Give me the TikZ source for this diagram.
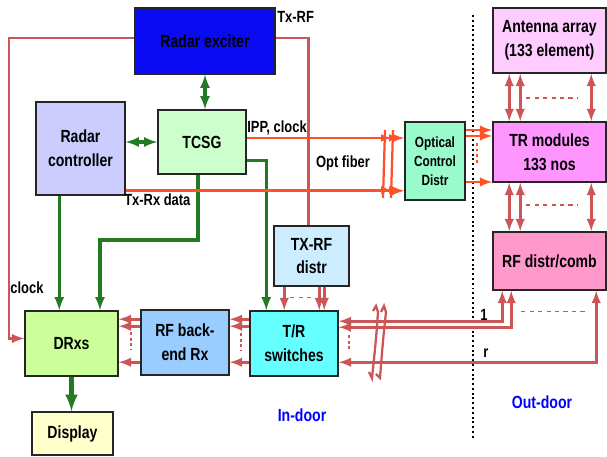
\documentclass[tikz,border=0pt]{standalone}
\usepackage{fontspec}
\setmainfont{Liberation Sans}[FakeStretch=0.8]
\usepackage{tikz}
\usetikzlibrary{arrows,calc,positioning}
\definecolor{rfrot}{RGB}{204,85,85}
\definecolor{optrot}{RGB}{255,80,40}
\definecolor{steuergruen}{RGB}{34,122,34}
\definecolor{fexc}{RGB}{10,10,245}
\definecolor{fctrl}{RGB}{204,204,255}
\definecolor{ftcsg}{RGB}{204,255,204}
\definecolor{focd}{RGB}{153,250,204}
\definecolor{fant}{RGB}{255,204,255}
\definecolor{ftrm}{RGB}{255,150,255}
\definecolor{frfd}{RGB}{255,153,204}
\definecolor{ftxd}{RGB}{204,236,255}
\definecolor{ftrs}{RGB}{102,255,255}
\definecolor{frfb}{RGB}{153,204,255}
\definecolor{fdrx}{RGB}{204,255,153}
\definecolor{fdisp}{RGB}{255,255,204}

\begin{document}
\begin{tikzpicture}[x=0.025cm,y=-0.025cm,>=latex,
  block/.style 2 args={draw=black!85,line width=1.1pt,align=center,inner sep=1pt,
    minimum width=#1*0.025cm,minimum height=#2*0.025cm,
    font=\fontsize{12.5}{17}\selectfont\bfseries},
  lbl/.style={inner sep=0pt,font=\fontsize{11.5}{13}\selectfont\bfseries},
  ort/.style={inner sep=0pt,text=blue,font=\fontsize{12.5}{14}\selectfont\bfseries},
  rf/.style={draw=rfrot,line width=2pt},
  opt/.style={draw=optrot,line width=2pt},
  gruen/.style={draw=steuergruen,line width=2.2pt}]
\useasboundingbox (0,0) rectangle (607,457);
%Bloecke, Mittelpunkte in Pixeln
\node[block={140}{66},fill=fexc] (exciter) at (205,41) {Radar exciter};
\node[block={89}{93},fill=fctrl] (ctrl) at (80.5,148.5) {Radar\\controller};
\node[block={88}{64},fill=ftcsg] (tcsg) at (202,142) {TCSG};
\node[block={60}{78},fill=focd,font=\fontsize{10.5}{13.5}\selectfont\bfseries] (ocd) at (435,161) {Optical\\Control\\Distr};
\node[block={113}{65},fill=fant] (ant) at (549.5,40.5) {Antenna array\\(133 element)};
\node[block={113}{60},fill=ftrm] (trm) at (549.5,152) {TR modules\\133 nos};
\node[block={113}{58},fill=frfd] (rfd) at (549.5,261) {RF distr/comb};
\node[block={75}{60},fill=ftxd] (txd) at (311.5,256) {TX-RF\\distr};
\node[block={88}{65},fill=ftrs] (trs) at (294,343.5) {T/R\\switches};
\node[block={88}{65},fill=frfb] (rfb) at (185,342.5) {RF back-\\end Rx};
\node[block={93}{65},fill=fdrx] (drx) at (71.5,343.5) {DRxs};
\node[block={81}{43},fill=fdisp] (disp) at (72.5,433.5) {Display};

%Trennlinie innen/aussen
\draw[black,dotted,line width=1.4pt] (473,15) -- (473,440);
\node[ort] (lin) at (302,415) {In-door};
\node[ort] (lout) at (542,402) {Out-door};

%gruene Steuerleitungen
\draw[gruen,<->] (exciter.south) -- (exciter.south |- tcsg.north);
\draw[gruen,<->] (ctrl.east |- tcsg.west) -- (tcsg.west);
\coordinate (g1) at ($(ctrl.south west)+(24,0)$);
\draw[gruen,->] (g1) -- (g1 |- drx.north);
\coordinate (knick) at (100,240);
\draw[gruen,->] ($(tcsg.south)+(-4,0)$) |- (knick) -- (knick |- drx.north);
\draw[gruen,->] ($(tcsg.south east)+(0,-14)$) -| ($(trs.north west)+(17,0)$);
\draw[gruen,->,line width=3pt] (drx.south) -- (drx.south |- disp.north);

%HF-Leitungen
\coordinate (clk) at (9,200);
\draw[rf,->] ($(exciter.west)+(0,-3)$) -| (clk) |- ($(drx.west)+(0,-5)$);
\node[lbl] (lclock) at (27,288) {clock};
\draw[rf] ($(exciter.east)+(0,-3)$) -| ($(txd.north)+(-3,0)$);
\node[lbl,anchor=west] (ltxrf) at (277,17) {Tx-RF};
\foreach \dx in {11,46,51}{
  \coordinate (t) at ($(txd.south west)+(\dx,0)$);
  \draw[rf,->] (t) -- (t |- trs.north);
}
\draw[rf,dashed,line width=1pt] ($(txd.south west)+(17,11)$) -- ($(txd.south west)+(42,11)$);
\foreach \dy in {9,16,52}{
  \coordinate (t) at ($(trs.north west)+(0,\dy)$);
  \draw[rf,->] (t) -- (t -| rfb.east);
}
\draw[rf,dotted,line width=1.2pt] ($(trs.north west)+(-8,23)$) -- ($(trs.north west)+(-8,40)$);
\foreach \dy in {10,17,53}{
  \coordinate (t) at ($(rfb.north west)+(0,\dy)$);
  \draw[rf,->] (t) -- (t -| drx.east);
}
\draw[rf,dotted,line width=1.2pt] ($(rfb.north west)+(-9,23)$) -- ($(rfb.north west)+(-9,40)$);
\foreach \dy/\dx in {11/10,17/19,52/104}{
  \draw[rf,<->] ($(trs.north east)+(0,\dy)$) -| ($(rfd.south west)+(\dx,0)$);
}
\draw[rf,dashed,line width=1pt] ($(rfd.south west)+(29,21)$) -- ($(rfd.south west)+(93,21)$);
\draw[rf,dotted,line width=1.2pt] ($(trs.north east)+(10,25)$) -- ($(trs.north east)+(10,40)$);
\node[lbl] (leins) at (484,315) {1};
\node[lbl] (lr) at (486,353) {r};
%Unterbrechung der Kabel
\draw[rf,line width=1.6pt] (373,311) -- (376,306) -- (378,312) .. controls (376,340) .. (372,378) -- (369,372);
\draw[rf,line width=1.6pt] (381,312) -- (384,306) -- (386,312) .. controls (383,340) .. (380,378) -- (376,374);
\foreach \dx in {17,28,99}{
  \coordinate (t) at ($(ant.south west)+(\dx,0)$);
  \draw[rf,<->] (t) -- (t |- trm.north);
  \coordinate (t) at ($(trm.south west)+(\dx,0)$);
  \draw[rf,<->] (t) -- (t |- rfd.north);
}
\draw[rf,dashed,line width=1.2pt] ($(ant.south west)+(34,24)$) -- ($(ant.south west)+(85,24)$);
\draw[rf,dashed,line width=1.2pt] ($(trm.south west)+(34,22)$) -- ($(trm.south west)+(85,22)$);

%optische Leitungen
\draw[opt,->] ($(tcsg.east)+(0,-4)$) -- ($(ocd.west)+(0,-23)$);
\node[lbl,anchor=west] (lipp) at (247,128) {IPP, clock};
\coordinate (o) at ($(ctrl.south east)+(0,-5)$);
\draw[opt,->] (o) -- (o -| ocd.west);
\node[lbl,anchor=west] (ltxrx) at (124,200) {Tx-Rx data};
\node[lbl] (lfaser) at (343,163) {Opt fiber};
\draw[opt,line width=1.6pt] (385,130) -- (383,198);
\draw[opt,line width=1.6pt] (393,130) -- (391,198);
\foreach \xa in {391,399}{
  \draw[opt,->,line width=1.4pt] (\xa-7,138) -- (\xa,138);
  \draw[opt,->,line width=1.4pt] (\xa-7,190) -- (\xa,190);
}
\foreach \dy in {-31,-25,21}{
  \coordinate (t) at ($(ocd.east)+(0,\dy)$);
  \draw[opt,->] (t) -- (t -| trm.west);
}
\draw[opt,dotted,line width=1pt] (477,143) -- (477,163);
\end{tikzpicture}
\end{document}
